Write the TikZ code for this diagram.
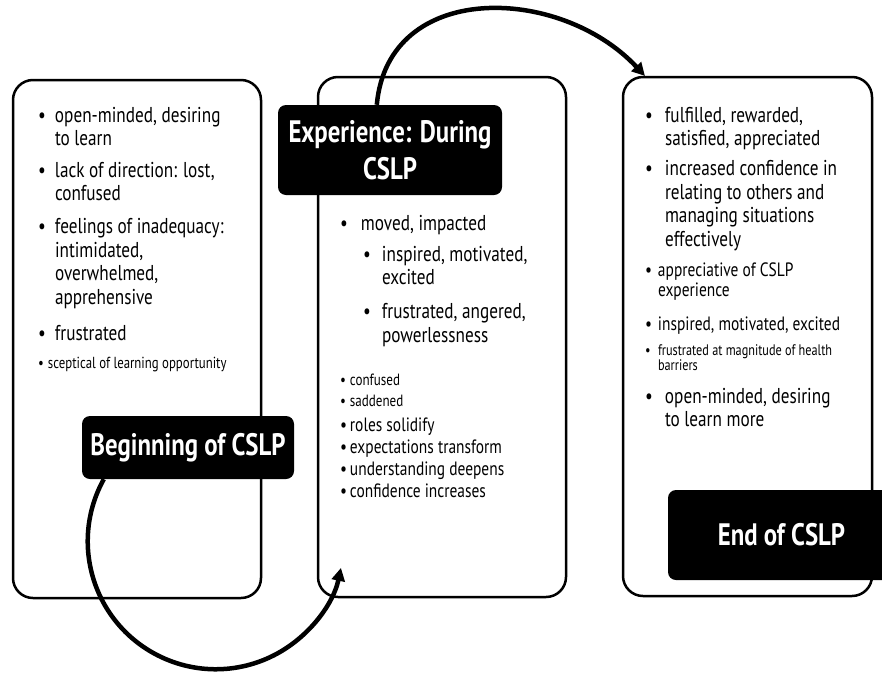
\documentclass[tikz,border=0pt]{standalone}
\usepackage{fontspec}
\setmainfont[FakeStretch=0.8]{PT Sans}
\usetikzlibrary{arrows.meta,calc}
\newcommand\fbig{\fontsize{21.5}{23.5}\selectfont}
\newcommand\fmed{\fontsize{19.3}{20}\selectfont}
\newcommand\fsma{\fontsize{16.3}{17}\selectfont}
\newcommand\ftin{\fontsize{15.3}{15.5}\selectfont}
\newcommand\fscp{\fontsize{16}{17}\selectfont}
\newcommand\flab{\fontsize{31}{36.5}\selectfont\bfseries}
\newcommand\bl[2]{\begin{tabular}[t]{@{}p{#1}@{}l@{}}\textbullet&#2\end{tabular}}
\begin{document}
\begin{tikzpicture}[x=1pt,y=-1pt,
  box/.style={draw=black, line width=2.5pt, rounded corners=20pt, inner sep=0pt},
  lab/.style={fill=black, text=white, rounded corners=8pt, align=center, font=\flab, inner sep=0pt},
  itm/.style={anchor=base west, inner sep=0pt, outer sep=0pt},
  arr/.style={line width=4.5pt, -{Triangle[length=13pt,width=13pt]}}]
\useasboundingbox (0,0) rectangle (882,675);
\fill[white] (0,0) rectangle (882,675);
\clip (0,0) rectangle (882,675);
% boxes
\node[box, minimum width=248pt, minimum height=518pt] (lbox) at (137,339) {};
\node[box, minimum width=248pt, minimum height=520pt] (mbox) at (442,337) {};
\node[box, minimum width=249pt, minimum height=519pt] (rbox) at (747.5,336.5) {};
% left items
\node[itm, font=\fbig] (l1) at (38,122) {\bl{17pt}{open-minded, desiring\\&to learn}};
\node[itm, font=\fbig] (l2) at (38,177) {\bl{17pt}{lack of direction: lost,\\&confused}};
\node[itm, font=\fbig] (l3) at (38,233.5) {\bl{17pt}{feelings of inadequacy:\\&intimidated,\\&overwhelmed,\\&apprehensive}};
\node[itm, font=\fbig] (l4) at (38,340) {\bl{17pt}{frustrated}};
\node[itm, font=\fscp] (l5) at (38,368) {\bl{10pt}{sceptical of learning opportunity}};
% middle items
\node[itm, font=\fbig] (m1) at (340,230) {\bl{21pt}{moved, impacted}};
\node[itm, font=\fbig] (m2) at (363,261) {\bl{19pt}{inspired, motivated,\\&excited}};
\node[itm, font=\fbig] (m3) at (363,318.5) {\bl{19pt}{frustrated, angered,\\&powerlessness}};
\node[itm, font=\fsma] (m4) at (340,385) {\bl{10pt}{confused}};
\node[itm, font=\fsma] (m5) at (340,406.5) {\bl{10pt}{saddened}};
\node[itm, font=\fmed] (m6) at (340,431) {\bl{10pt}{roles solidify}};
\node[itm, font=\fmed] (m7) at (340,453) {\bl{10pt}{expectations transform}};
\node[itm, font=\fmed] (m8) at (340,475) {\bl{10pt}{understanding deepens}};
\node[itm, font=\fmed] (m9) at (340,497) {\bl{10pt}{confidence increases}};
% right items
\node[itm, font=\fbig] (r1) at (645,122) {\bl{20pt}{fulfilled, rewarded,\\&satisfied, appreciated}};
\node[itm, font=\fbig] (r2) at (645,175.5) {\bl{20pt}{increased confidence in\\&relating to others and\\&managing situations\\&effectively}};
\node[itm, font=\fmed] (r3) at (645,276) {\bl{13pt}{appreciative of CSLP\\&experience}};
\node[itm, font=\fmed] (r4) at (645,330) {\bl{13pt}{inspired, motivated, excited}};
\node[itm, font=\ftin] (r5) at (645,355) {\bl{13pt}{frustrated at magnitude of health\\&barriers}};
\node[itm, font=\fbig] (r6) at (645,403) {\bl{20pt}{open-minded, desiring\\&to learn more}};
% labels
\node[lab, minimum width=224pt, minimum height=90pt] (exp) at (390,150) {Experience: During\\CSLP};
\node[lab, minimum width=212pt, minimum height=63pt] (beg) at (188,447.5) {Beginning of CSLP};
\node[lab, minimum width=227pt, minimum height=90pt] (end) at (781.5,535) {End of CSLP};
% arrows
\coordinate (t1) at (645,76);
\draw[arr] ($(exp.north west)+(99,0)$) .. controls (388,-20) and (560,-15) .. (t1);
\draw[arr] ($(beg.south west)+(22,0)$) arc[start angle=209, end angle=12, radius=128];
\end{tikzpicture}
\end{document}
